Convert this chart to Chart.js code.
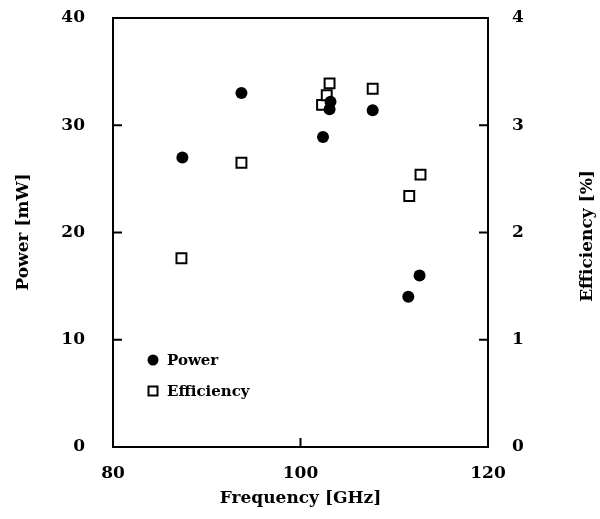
<!DOCTYPE html>
<html lang="en">
<head>
<meta charset="UTF-8">
<title>Power and Efficiency vs Frequency</title>
<style>
  html, body { margin: 0; padding: 0; background: #fff; }
  #wrap { width: 600px; height: 519px; }
</style>
<script src="https://cdn.jsdelivr.net/npm/chart.js"></script>
</head>
<body>
<div id="wrap"><canvas id="chart" width="600" height="519"></canvas></div>
<script>
// data
const powerFreq = [87.4, 93.7, 102.4, 103.1, 103.2, 107.7, 111.5, 112.7];
const powerMw = [27.0, 33.0, 28.9, 31.5, 32.2, 31.4, 14.0, 16.0];
const effFreq = [87.3, 93.7, 102.3, 102.8, 103.1, 107.7, 111.6, 112.8];
const effPct = [1.76, 2.65, 3.19, 3.28, 3.39, 3.34, 2.34, 2.54];
const xTicks = [80, 100, 120];
const powerTicks = [0, 10, 20, 30, 40];
const effTicks = [0, 1, 2, 3, 4];

const FONT = "'DejaVu Serif', serif";
const INK = '#000';

// frame, inward tick marks, axis titles and legend
const decor = {
  id: 'decor',
  afterDraw(chart) {
    const ctx = chart.ctx;
    const a = chart.chartArea;
    const x = chart.scales.x, yl = chart.scales.y, yr = chart.scales.y2;
    ctx.save();
    ctx.strokeStyle = INK;
    ctx.lineWidth = 2;
    ctx.strokeRect(a.left, a.top, a.right - a.left, a.bottom - a.top);
    ctx.beginPath();
    xTicks.slice(1, -1).forEach(v => {
      const px = x.getPixelForValue(v);
      ctx.moveTo(px, a.bottom); ctx.lineTo(px, a.bottom - 9);
    });
    powerTicks.slice(1, -1).forEach(v => {
      const py = yl.getPixelForValue(v);
      ctx.moveTo(a.left, py); ctx.lineTo(a.left + 9, py);
    });
    effTicks.slice(1, -1).forEach(v => {
      const py = yr.getPixelForValue(v);
      ctx.moveTo(a.right, py); ctx.lineTo(a.right - 9, py);
    });
    ctx.stroke();

    // axis titles
    ctx.fillStyle = INK;
    ctx.font = 'bold 17px ' + FONT;
    ctx.textAlign = 'center';
    ctx.textBaseline = 'middle';
    ctx.fillText('Frequency [GHz]', (a.left + a.right) / 2, 499);
    ctx.save();
    ctx.translate(24, 232);
    ctx.rotate(-Math.PI / 2);
    ctx.fillText('Power [mW]', 0, 0);
    ctx.restore();
    ctx.save();
    ctx.translate(588, 236);
    ctx.rotate(-Math.PI / 2);
    ctx.fillText('Efficiency [%]', 0, 0);
    ctx.restore();

    // legend inside the plot
    ctx.font = 'bold 15px ' + FONT;
    ctx.textAlign = 'left';
    const lx = a.left + 40, ly1 = a.top + 342, ly2 = a.top + 373;
    ctx.beginPath();
    ctx.arc(lx, ly1, 5.5, 0, Math.PI * 2);
    ctx.fill();
    ctx.lineWidth = 2;
    ctx.strokeRect(lx - 4.5, ly2 - 4.5, 9, 9);
    ctx.fillText('Power', lx + 14, ly1 + 1);
    ctx.fillText('Efficiency', lx + 14, ly2 + 1);
    ctx.restore();
  }
};

const tickFont = { family: FONT, size: 17, weight: 'bold' };

// fixed box sizes so the plot frame lands where it is in the figure
function fitY(width) {
  return s => { s.width = width; s.paddingTop = 0; s.paddingBottom = 0; };
}

new Chart(document.getElementById('chart'), {
  type: 'scatter',
  data: {
    datasets: [
      {
        label: 'Power',
        data: powerFreq.map((f, i) => ({ x: f, y: powerMw[i] })),
        yAxisID: 'y',
        pointStyle: 'circle',
        pointRadius: 6,
        backgroundColor: INK,
        borderColor: INK,
        borderWidth: 0
      },
      {
        label: 'Efficiency',
        data: effFreq.map((f, i) => ({ x: f, y: effPct[i] })),
        yAxisID: 'y2',
        pointStyle: 'rect',
        pointRadius: 7,
        backgroundColor: '#fff',
        borderColor: INK,
        borderWidth: 2
      }
    ]
  },
  options: {
    responsive: false,
    animation: false,
    layout: { padding: { top: 18, left: 0, right: 0, bottom: 0 } },
    plugins: { legend: { display: false }, tooltip: { enabled: false } },
    scales: {
      x: {
        type: 'linear', min: 80, max: 120,
        afterBuildTicks: s => { s.ticks = xTicks.map(v => ({ value: v })); },
        afterFit: s => { s.height = 72; s.paddingLeft = 0; s.paddingRight = 0; },
        grid: { display: false }, border: { display: false },
        ticks: { font: tickFont, color: INK, padding: 8, maxRotation: 0 }
      },
      y: {
        type: 'linear', position: 'left', min: 0, max: 40,
        afterBuildTicks: s => { s.ticks = powerTicks.map(v => ({ value: v })); },
        afterFit: fitY(113),
        grid: { display: false }, border: { display: false },
        ticks: { font: tickFont, color: INK, padding: 20 }
      },
      y2: {
        type: 'linear', position: 'right', min: 0, max: 4,
        afterBuildTicks: s => { s.ticks = effTicks.map(v => ({ value: v })); },
        afterFit: fitY(112),
        grid: { display: false }, border: { display: false },
        ticks: { font: tickFont, color: INK, padding: 16 }
      }
    }
  },
  plugins: [decor]
});
</script>
</body>
</html>
